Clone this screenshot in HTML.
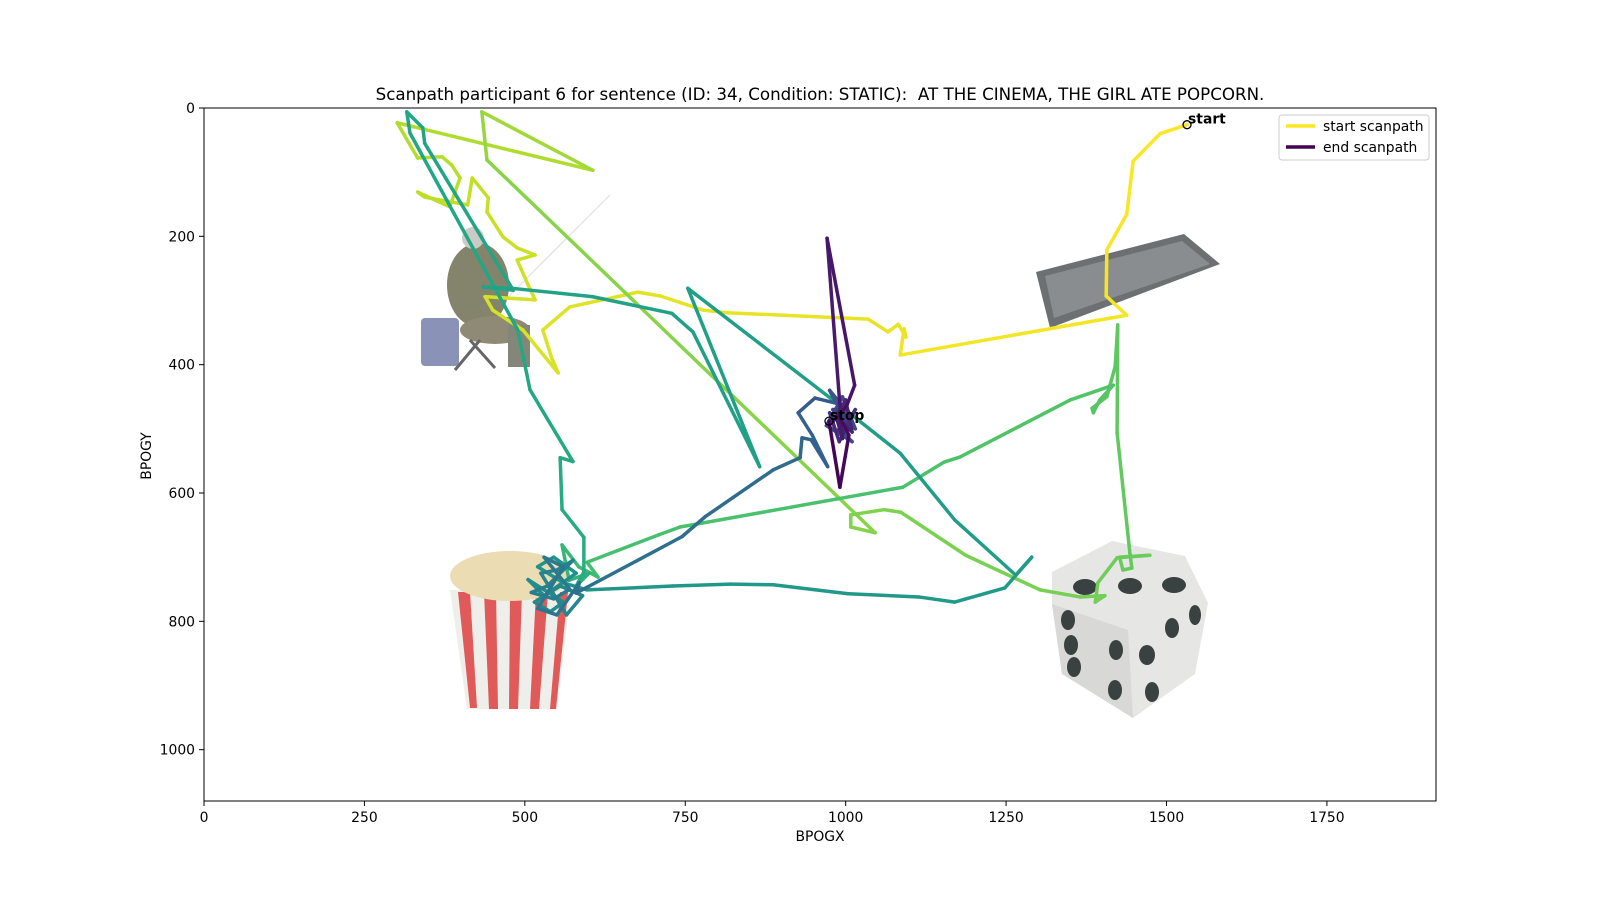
<!DOCTYPE html>
<html><head><meta charset="utf-8"><style>
html,body{margin:0;padding:0;background:#fff;}
svg{display:block;font-family:"DejaVu Sans","Liberation Sans",sans-serif;}
</style></head><body>
<svg id="chart" width="1600" height="900" viewBox="0 0 1600 900" xmlns="http://www.w3.org/2000/svg">
<rect width="1600" height="900" fill="#fff"/>
<text x="820" y="100" font-size="16.7" text-anchor="middle" xml:space="preserve">Scanpath participant 6 for sentence (ID: 34, Condition: STATIC):  AT THE CINEMA, THE GIRL ATE POPCORN.</text>
<g id="imgs">
 <g opacity="0.75">
  <line x1="505" y1="300" x2="610" y2="195" stroke="#ddd" stroke-width="1.5"/>
  <rect x="421" y="318" width="38" height="48" rx="4" fill="#6470a0"/>
  <ellipse cx="478" cy="285" rx="31" ry="42" fill="#5c5a3c"/>
  <ellipse cx="495" cy="330" rx="35" ry="14" fill="#6a6447"/>
  <circle cx="473" cy="238" r="11" fill="#b9b9b5"/>
  <rect x="508" y="325" width="22" height="42" fill="#5a5e4b"/>
  <line x1="455" y1="370" x2="480" y2="340" stroke="#333" stroke-width="3"/>
  <line x1="470" y1="340" x2="495" y2="368" stroke="#333" stroke-width="3"/>
 </g>
 <g>
  <polygon points="1036,272 1184,234 1220,264 1050,328" fill="#6d7072"/>
  <polygon points="1045,276 1182,241 1210,264 1054,318" fill="#8a8d8f"/>
 </g>
 <g>
  <polygon points="450,590 571,590 557,709 467,709" fill="#eeeeea"/>
  <polygon points="458,592 470,592 477,708 470,708" fill="#e05a5a"/>
  <polygon points="484,592 496,592 498,709 489,709" fill="#e05a5a"/>
  <polygon points="510,592 522,592 518,709 509,709" fill="#e05a5a"/>
  <polygon points="536,592 548,592 539,709 530,709" fill="#e05a5a"/>
  <polygon points="560,592 568,592 556,709 550,709" fill="#e05a5a"/>
  <ellipse cx="510" cy="576" rx="60" ry="25" fill="#ecdcb4"/>
 </g>
 <g>
  <polygon points="1052,572 1112,541 1185,556 1208,603 1195,674 1133,718 1062,674 1052,604" fill="#e6e6e4"/>
  <polygon points="1052,604 1062,674 1133,718 1128,630" fill="#d8d8d6"/>
  <g fill="#3a4141">
   <ellipse cx="1085" cy="587" rx="12" ry="8"/><ellipse cx="1130" cy="586" rx="12" ry="8"/><ellipse cx="1174" cy="585" rx="12" ry="8"/>
   <ellipse cx="1068" cy="620" rx="7" ry="10"/><ellipse cx="1071" cy="645" rx="7" ry="10"/><ellipse cx="1074" cy="667" rx="7" ry="10"/>
   <ellipse cx="1116" cy="650" rx="7" ry="10"/><ellipse cx="1147" cy="655" rx="8" ry="10"/><ellipse cx="1172" cy="628" rx="7" ry="10"/>
   <ellipse cx="1195" cy="615" rx="6" ry="10"/><ellipse cx="1152" cy="692" rx="7" ry="10"/><ellipse cx="1115" cy="690" rx="7" ry="10"/>
  </g>
 </g>
</g>
<g id="path"></g>
<g id="marks"></g>
<rect x="204" y="108" width="1232" height="693" fill="none" stroke="#000" stroke-width="1"/>
<g id="axes"></g>
<text x="820" y="841" font-size="13.9" text-anchor="middle">BPOGX</text>
<text transform="translate(151,456) rotate(-90)" font-size="13.9" text-anchor="middle">BPOGY</text>
<g>
 <rect x="1279" y="115" width="150" height="45" rx="3" fill="#fff" fill-opacity="0.8" stroke="#ccc"/>
 <g>
  <line x1="1286" y1="126" x2="1315" y2="126" stroke="#fde725" stroke-width="3.5"/>
  <text x="1323" y="131" font-size="13.9">start scanpath</text>
 </g>
 <g>
  <line x1="1286" y1="147" x2="1315" y2="147" stroke="#440154" stroke-width="3.5"/>
  <text x="1323" y="152" font-size="13.9">end scanpath</text>
 </g>
</g>
</svg>
<script>
const xs = [1532,1490,1448,1438,1407,1406,1438,1085,1091,1094,1082,1066,1035,815,778,711,676,570,528,542,552,497,450,438,516,503,488,516,488,466,441,443,418,411,344,333,383,399,386,371,333,301,
606,433,441,1046,1008,1008,1060,1086,1187,1303,1365,1404,1389,1393,1423,1474,1427,1432,1446,1443,1423,1424,1420,1407,1384,1386,1396,1417,1350,1178,1153,1089,742,709,597,
614,584,558,569,600,580,
592,592,558,555,575,536,508,489,321,316,341,344,482,435,480,605,729,762,866,754,976,1085,1170,1265,1290,1248,1170,1114,1004,887,820,731,597,
560,520,545,580,530,505,560,540,515,555,590,565,525,550,575,535,510,545,570,530,560,520,550,585,
580,745,781,887,929,932,946,972,948,926,952,
985,975,1000,990,1010,970,995,1015,980,990,1005,985,975,1000,1015,990,980,1000,1010,985,995,971,1014,1002,990,1005,991,974];
const ys = [26,40,83,166,221,293,323,385,344,357,337,349,329,319,315,293,287,310,346,390,413,346,315,294,299,271,237,229,218,201,162,140,109,151,139,131,154,109,89,76,78,23,
97,6,81,662,653,634,626,630,697,751,762,760,770,740,701,697,700,720,717,694,506,338,403,450,468,475,455,432,455,544,552,591,653,665,708,
731,715,681,736,725,745,
723,669,626,545,551,486,439,346,39,6,31,55,284,279,281,294,320,349,559,281,452,538,642,728,700,748,770,762,757,743,742,745,751,
740,715,700,725,760,735,770,785,770,745,760,790,725,720,705,745,755,765,750,700,715,780,790,740,
756,668,637,564,545,514,517,559,510,475,452,
460,440,470,500,520,495,450,500,470,470,485,505,475,495,470,520,490,455,505,480,515,203,432,463,480,510,591,488];
const colorKeyIndex = [0,41,44,76,82,115,139,150,178];
const colorKeyValue = [1,0.88,0.82,0.70,0.62,0.52,0.38,0.28,0];
const xTicks = [0,250,500,750,1000,1250,1500,1750];
const yTicks = [0,200,400,600,800,1000];
const startLabel = "start", stopLabel = "stop";

const NS = "http://www.w3.org/2000/svg";
const X0=204, Y0=108, SC=1232/1920;
function sx(v){return X0+v*SC;}
function sy(v){return Y0+v*(693/1080);}
const vir=[[68,1,84],[72,36,117],[65,68,135],[53,95,141],[42,120,142],[33,145,140],[34,168,132],[68,191,112],[122,209,81],[189,223,38],[253,231,37]];
function viridis(t){t=Math.max(0,Math.min(1,t));const f=t*10,i=Math.min(9,Math.floor(f)),r=f-i;const a=vir[i],b=vir[i+1];
 return `rgb(${Math.round(a[0]+(b[0]-a[0])*r)},${Math.round(a[1]+(b[1]-a[1])*r)},${Math.round(a[2]+(b[2]-a[2])*r)})`;}
function tAt(i){for(let k=0;k<colorKeyIndex.length-1;k++){const a=colorKeyIndex[k],b=colorKeyIndex[k+1];
 if(i<=b){return colorKeyValue[k]+(colorKeyValue[k+1]-colorKeyValue[k])*(i-a)/(b-a);}}return 0;}
const pg=document.getElementById('path');
for(let i=0;i<xs.length-1;i++){
 const l=document.createElementNS(NS,'line');
 
 
 l.setAttribute('x1',sx(xs[i]));l.setAttribute('y1',sy(ys[i]));
 l.setAttribute('x2',sx(xs[i+1]));l.setAttribute('y2',sy(ys[i+1]));
 l.setAttribute('stroke',viridis(tAt(i)));l.setAttribute('stroke-width','3.5');l.setAttribute('stroke-linecap','round');
 pg.appendChild(l);
}
const mg=document.getElementById('marks');
function marker(i,label,name){
 const c=document.createElementNS(NS,'circle');
 
 
 c.setAttribute('cx',sx(xs[i]));c.setAttribute('cy',sy(ys[i]));c.setAttribute('r','4');
 c.setAttribute('fill','none');c.setAttribute('stroke','#000');c.setAttribute('stroke-width','1.3');mg.appendChild(c);
 const t=document.createElementNS(NS,'text');
 
 
 t.setAttribute('x',sx(xs[i])+1);t.setAttribute('y',sy(ys[i])-1);t.setAttribute('font-size','13.9');t.setAttribute('font-weight','bold');
 t.textContent=label;mg.appendChild(t);
}
marker(0,startLabel,'start');
marker(xs.length-1,stopLabel,'stop');
const ag=document.getElementById('axes');
xTicks.forEach(v=>{
 const l=document.createElementNS(NS,'line');
 
 
 l.setAttribute('x1',sx(v));l.setAttribute('x2',sx(v));l.setAttribute('y1',801);l.setAttribute('y2',806);l.setAttribute('stroke','#000');ag.appendChild(l);
 const t=document.createElementNS(NS,'text');
 
 
 t.setAttribute('x',sx(v));t.setAttribute('y',822);t.setAttribute('font-size','13.9');t.setAttribute('text-anchor','middle');t.textContent=v;ag.appendChild(t);
});
yTicks.forEach(v=>{
 const l=document.createElementNS(NS,'line');
 
 
 l.setAttribute('x1',199);l.setAttribute('x2',204);l.setAttribute('y1',sy(v));l.setAttribute('y2',sy(v));l.setAttribute('stroke','#000');ag.appendChild(l);
 const t=document.createElementNS(NS,'text');
 
 
 t.setAttribute('x',195);t.setAttribute('y',sy(v)+5);t.setAttribute('font-size','13.9');t.setAttribute('text-anchor','end');t.textContent=v;ag.appendChild(t);
});
</script>
</body></html>
